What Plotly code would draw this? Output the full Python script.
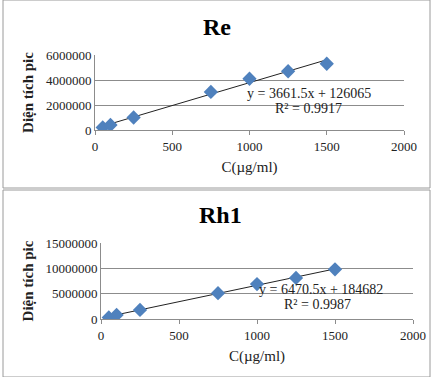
import plotly.graph_objects as go

# Data
conc = [50, 100, 250, 750, 1000, 1250, 1500]
re_area = [200000, 400000, 1000000, 3050000, 4100000, 4700000, 5300000]
rh1_area = [300000, 800000, 1800000, 5100000, 6900000, 8100000, 9800000]
re_slope, re_intercept, re_r2 = 3661.5, 126065, 0.9917
rh1_slope, rh1_intercept, rh1_r2 = 6470.5, 184682, 0.9987
x_ticks = [0, 500, 1000, 1500, 2000]
re_yticks = [0, 2000000, 4000000, 6000000]
rh1_yticks = [0, 5000000, 10000000, 15000000]

W, H = 433, 377
FONT = "Liberation Serif"
BLUE = "#4F81BD"

fig = go.Figure()

def add_panel(idx, y, slope, intercept):
    xa = "x" if idx == 1 else "x2"
    ya = "y" if idx == 1 else "y2"
    xs = [min(conc), max(conc)]
    fig.add_trace(go.Scatter(x=xs, y=[slope * v + intercept for v in xs], mode="lines",
                             line=dict(color="#222222", width=1), xaxis=xa, yaxis=ya,
                             showlegend=False, hoverinfo="skip"))
    fig.add_trace(go.Scatter(x=conc, y=y, mode="markers",
                             marker=dict(symbol="diamond", size=11, color=BLUE,
                                         line=dict(width=0)),
                             xaxis=xa, yaxis=ya, showlegend=False))

add_panel(1, re_area, re_slope, re_intercept)
add_panel(2, rh1_area, rh1_slope, rh1_intercept)

def px_x(p):
    return p / W

def px_y(p):
    return 1 - p / H

tick_font = dict(family=FONT, size=13, color="#222")
xtitle_font = dict(family=FONT, size=15, color="#222")
ytitle_font = dict(family=FONT, size=15, color="#222")

axis_common = dict(showgrid=False, showline=True, linecolor="#8c8c8c", linewidth=1,
                   ticks="outside", ticklen=4, tickcolor="#8c8c8c", automargin=False,
                   tickfont=tick_font, zeroline=False,
                   tickvals=x_ticks, range=[0, 2000], fixedrange=True)
yaxis_common = dict(showgrid=True, gridcolor="#8c8c8c", gridwidth=1, showline=True,
                    linecolor="#8c8c8c", linewidth=1, ticks="", zeroline=False, automargin=False,
                    tickfont=tick_font, fixedrange=True, tickformat="d")

fig.update_layout(
    width=W, height=H, margin=dict(l=0, r=0, t=0, b=0, autoexpand=False),
    paper_bgcolor="white", plot_bgcolor="white",
    xaxis=dict(axis_common, domain=[px_x(95), px_x(404)], anchor="y",
               title=dict(text="C(µg/ml)", font=xtitle_font, standoff=8)),
    yaxis=dict(yaxis_common, domain=[px_y(130), px_y(55)], anchor="x",
               range=[0, 6000000], tickvals=re_yticks,
               title=dict(text="<b>Diện tích pic</b>", font=ytitle_font, standoff=8)),
    xaxis2=dict(axis_common, domain=[px_x(101), px_x(413)], anchor="y2",
                title=dict(text="C(µg/ml)", font=xtitle_font, standoff=8)),
    yaxis2=dict(yaxis_common, domain=[px_y(319), px_y(243)], anchor="x2",
                range=[0, 15000000], tickvals=rh1_yticks,
                title=dict(text="<b>Diện tích pic</b>", font=ytitle_font, standoff=8)),
)

ann_font = dict(family=FONT, size=14, color="#222")

def ann(text, x, y, font):
    fig.add_annotation(text=text, x=px_x(x), y=px_y(y), xref="paper", yref="paper",
                       xanchor="center", yanchor="middle", showarrow=False, font=font)

ann("<b>Re</b>", 217, 27, dict(family=FONT, size=24, color="black"))
ann("<b>Rh1</b>", 220, 215, dict(family=FONT, size=24, color="black"))
ann(f"y = {re_slope}x + {re_intercept}", 309, 93, ann_font)
ann(f"R² = {re_r2}", 308, 108, ann_font)
ann(f"y = {rh1_slope}x + {rh1_intercept}", 321, 289, ann_font)
ann(f"R² = {rh1_r2}", 317, 304, ann_font)

# chart borders
fig.add_shape(type="rect", xref="paper", yref="paper", x0=px_x(3), x1=px_x(430),
              y0=px_y(188), y1=px_y(0), line=dict(color="#9a9a9a", width=1))
fig.add_shape(type="rect", xref="paper", yref="paper", x0=px_x(3), x1=px_x(430),
              y0=px_y(377), y1=px_y(190), line=dict(color="#9a9a9a", width=1))

fig.write_html("out.html", config={"displayModeBar": False},
               post_script="document.body.style.margin='0';document.body.style.overflow='hidden';")
